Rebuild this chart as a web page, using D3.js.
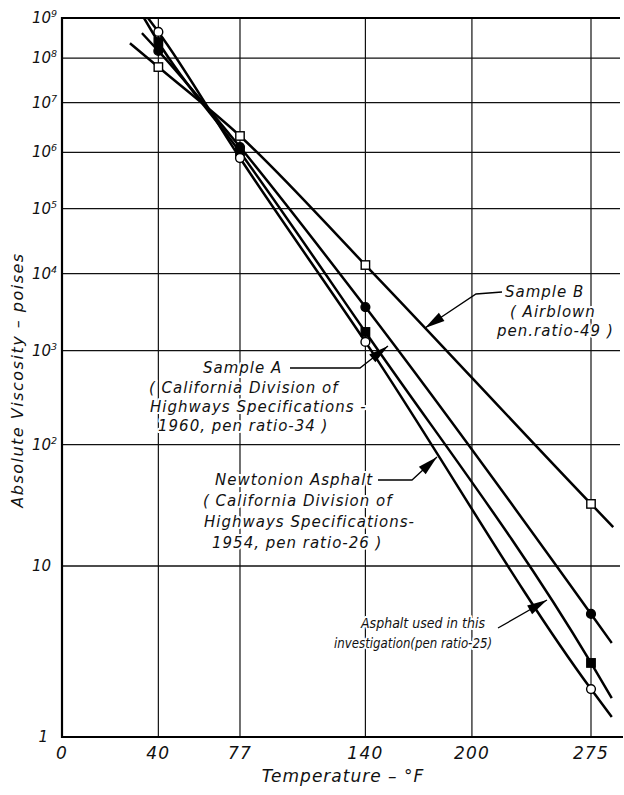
<!DOCTYPE html>
<html>
<head>
<meta charset="utf-8">
<script src="https://cdn.jsdelivr.net/npm/d3@7"></script>
<style>
  body { margin: 0; background: #fff; }
  text { font-family: "DejaVu Sans", sans-serif; font-style: italic; fill: #111; }
  .note { font-size: 15px; letter-spacing: 1px; paint-order: stroke; stroke: #fff; stroke-width: 4px; stroke-linejoin: round; }
  .note.tight { font-size: 14.5px; letter-spacing: 0; }
</style>
</head>
<body>
<svg id="chart" width="624" height="795"></svg>
<script>
// measurement temperatures, deg F
const temps = [40, 77, 140, 275];

// absolute viscosity in poises at each temperature
const sampleB = [6.2e7, 2.07e6, 1.33e4, 29.9];
const sampleA = [1.49e8, 1.26e6, 3.49e3, 4.76];
const newtonian = [4.4e8, 7.8e5, 1.27e3, 1.74];
const asphaltUsed = [2.46e8, 1.01e6, 1.68e3, 2.42];

// where the drawn curves begin and end: [deg F, poises]
const sampleBEnds = [[27.8, 2.3e8], [290, 19.5]];
const sampleAEnds = [[32.9, 4.1e8], [289, 3.16]];
const newtonianEnds = [[35.5, 1e9], [289, 1.25]];
const asphaltUsedEnds = [[33.8, 1e9], [289, 1.56]];

const xTicks = [0, 40, 77, 140, 200, 275];
const yExponents = [0, 1, 2, 3, 4, 5, 6, 7, 8, 9];

const pLeft = 62, pRight = 620, pTop = 18, pBottom = 737;

// temperature axis is logarithmic in (T + 400)
const tOffset = 400;
const xLog = d3.scaleLog().domain([0 + tOffset, 275 + tOffset]).range([pLeft, 591]);
const x = t => xLog(t + tOffset);

// viscosity axis: log of log of centipoise
const yLin = d3.scaleLinear().domain([Math.log10(2), Math.log10(11)]).range([pBottom, pTop]);
const y = v => yLin(Math.log10(Math.log10(v) + 2));

const series = [
    { values: sampleB, ends: sampleBEnds, shape: "square", fill: "#fff" },
    { values: sampleA, ends: sampleAEnds, shape: "circle", fill: "#000" },
    { values: asphaltUsed, ends: asphaltUsedEnds, shape: "square", fill: "#000" },
    { values: newtonian, ends: newtonianEnds, shape: "circle", fill: "#fff" },
];

const svg = d3.select("#chart");

svg.append("defs").append("clipPath").attr("id", "plot")
    .append("rect").attr("x", pLeft).attr("y", pTop)
    .attr("width", pRight - pLeft).attr("height", pBottom - pTop);

// grid
svg.append("g").selectAll("line")
    .data(yExponents.filter(n => n > 0 && n < 9))
    .join("line")
    .attr("x1", pLeft).attr("x2", pRight)
    .attr("y1", n => y(Math.pow(10, n))).attr("y2", n => y(Math.pow(10, n)))
    .attr("stroke", "#111").attr("stroke-width", 1.3);

svg.append("g").selectAll("line")
    .data(xTicks.filter(t => t > 0))
    .join("line")
    .attr("x1", t => x(t)).attr("x2", t => x(t))
    .attr("y1", pTop).attr("y2", pBottom)
    .attr("stroke", "#111").attr("stroke-width", 1.2);

// frame
svg.append("path")
    .attr("d", `M${pRight},${pTop} H${pLeft} V${pBottom} H${pRight + 3}`)
    .attr("fill", "none").attr("stroke", "#000").attr("stroke-width", 2.2);

// curves
const line = d3.line().x(d => x(d[0])).y(d => y(d[1])).curve(d3.curveMonotoneX);

svg.append("g").attr("clip-path", "url(#plot)")
    .selectAll("path")
    .data(series)
    .join("path")
    .attr("d", s => line([s.ends[0], ...temps.map((t, i) => [t, s.values[i]]), s.ends[1]]))
    .attr("fill", "none").attr("stroke", "#000").attr("stroke-width", 2.5);

// markers
series.forEach(s => {
    const g = svg.append("g");
    const pts = temps.map((t, i) => [t, s.values[i]]);
    if (s.shape === "circle") {
        g.selectAll("circle").data(pts).join("circle")
            .attr("cx", d => x(d[0])).attr("cy", d => y(d[1])).attr("r", 4.4)
            .attr("fill", s.fill).attr("stroke", "#000").attr("stroke-width", 1.4);
    } else {
        g.selectAll("rect").data(pts).join("rect")
            .attr("x", d => x(d[0]) - 4.2).attr("y", d => y(d[1]) - 4.2)
            .attr("width", 8.4).attr("height", 8.4)
            .attr("fill", s.fill).attr("stroke", "#000").attr("stroke-width", 1.4);
    }
});

// tick labels
svg.append("g").selectAll("text")
    .data(xTicks)
    .join("text")
    .attr("x", t => x(t)).attr("y", pBottom + 22)
    .attr("text-anchor", "middle").attr("font-size", 17)
    .attr("letter-spacing", 1.2)
    .text(t => t);

const yLab = svg.append("g").selectAll("text")
    .data(yExponents)
    .join("text")
    .attr("x", n => n === 0 ? 48 : 32).attr("y", n => y(Math.pow(10, n)) + 5)
    .attr("text-anchor", n => n === 0 ? "end" : "start").attr("font-size", 15);
yLab.append("tspan").text(n => n === 0 ? "1" : "10");
yLab.filter(n => n > 1).append("tspan")
    .attr("dy", -6).attr("font-size", 9.5)
    .text(n => n);

// axis titles
svg.append("text")
    .attr("x", 343).attr("y", 782)
    .attr("text-anchor", "middle").attr("font-size", 17)
    .attr("letter-spacing", 1)
    .text("Temperature  –  °F");

svg.append("text")
    .attr("transform", "translate(23,380) rotate(-90)")
    .attr("text-anchor", "middle").attr("font-size", 16)
    .attr("letter-spacing", 1.5)
    .text("Absolute Viscosity  –  poises");

// annotations
const notes = [
    { lines: [["Sample B", 505, 297], ["( Airblown", 510, 317], ["pen.ratio-49 )", 497, 336]],
      arrow: [[502, 292], [476, 294], [425, 328]] },
    { lines: [["Sample A", 203, 373], ["( California Division of", 149, 393],
              ["Highways Specifications -", 150, 412], ["1960, pen ratio-34 )", 158, 431]],
      arrow: [[290, 368], [360, 368], [388, 346]] },
    { lines: [["Newtonion Asphalt", 215, 485], ["( California Division of", 203, 506],
              ["Highways Specifications-", 204, 527], ["1954, pen ratio-26 )", 212, 548]],
      arrow: [[378, 480], [412, 480], [437, 457]] },
    { tight: true,
      lines: [["Asphalt used in this", 485, 628, "end", 124], ["investigation(pen ratio-25)", 492, 648, "end", 158]],
      arrow: [[498, 628], [547, 600]] },
];

notes.forEach(n => {
    const g = svg.append("g");
    g.append("path")
        .attr("d", d3.line()(n.arrow))
        .attr("fill", "none").attr("stroke", "#000").attr("stroke-width", 1.3);
    const [p, q] = n.arrow.slice(-2);
    const a = Math.atan2(q[1] - p[1], q[0] - p[0]);
    const len = 20, w = 5;
    const bx = q[0] - len * Math.cos(a), by = q[1] - len * Math.sin(a);
    g.append("path")
        .attr("d", `M${q[0]},${q[1]} L${bx - w * Math.sin(a)},${by + w * Math.cos(a)} L${bx + w * Math.sin(a)},${by - w * Math.cos(a)} Z`)
        .attr("fill", "#000");
    const t = g.selectAll("text").data(n.lines).join("text")
        .attr("class", n.tight ? "note tight" : "note")
        .attr("x", d => d[1]).attr("y", d => d[2])
        .attr("text-anchor", d => d[3] || "start")
        .text(d => d[0]);
    if (n.tight) t.attr("textLength", d => d[4]).attr("lengthAdjust", "spacingAndGlyphs");
});
</script>
</body>
</html>
